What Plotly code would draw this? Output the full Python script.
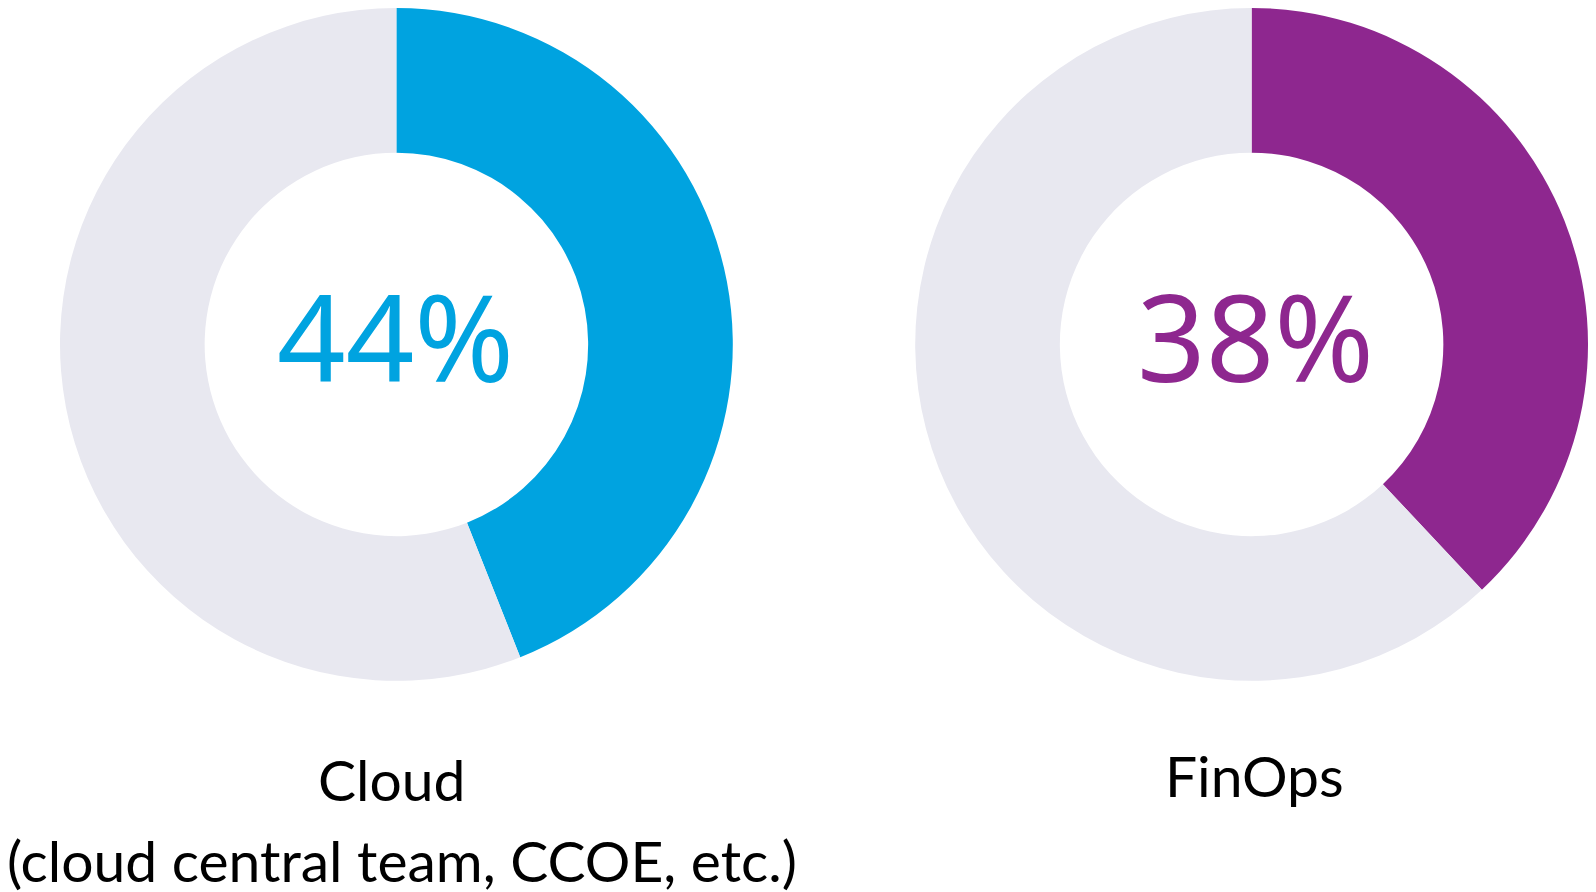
import plotly.graph_objects as go

W, H = 1596, 892

categories = ["Cloud", "FinOps"]
values = [44, 38]
label_lines = [["Cloud", "(cloud central team, CCOE, etc.)"], ["FinOps"]]
colors = ["#00A3E0", "#8E278F"]
rest_color = "#E8E8F0"

# layout (figure pixels)
donut_x = [(52.0, 724.8), (907.2, 1580.0)]
donut_y = (0, 672.8)
pct_x = [387.4, 1247.2]
pct_y = 327.2
label_x = [[383.8, 394.0], [1246.2]]
label_y = [[770.6, 852.3], [767.1]]

fig = go.Figure()
for i, cat in enumerate(categories):
    x0, x1 = donut_x[i]
    fig.add_trace(go.Pie(
        labels=[cat, "Other"],
        values=[values[i], 100 - values[i]],
        hole=0.57,
        sort=False,
        direction="clockwise",
        rotation=0,
        marker=dict(colors=[colors[i], rest_color], line=dict(width=0)),
        textinfo="none",
        hoverinfo="label+percent",
        showlegend=False,
        domain=dict(x=[x0 / W, x1 / W], y=[1 - donut_y[1] / H, 1 - donut_y[0] / H]),
    ))

annotations = []
for i, cat in enumerate(categories):
    annotations.append(dict(
        x=pct_x[i] / W, y=1 - pct_y / H, xref="paper", yref="paper",
        text=f"{values[i]}%", showarrow=False, xanchor="center", yanchor="middle",
        font=dict(family="Noto Sans", size=120, color=colors[i]),
    ))

for i, lines in enumerate(label_lines):
    for j, line in enumerate(lines):
        annotations.append(dict(
            x=label_x[i][j] / W, y=1 - label_y[i][j] / H, xref="paper", yref="paper",
            text=line, showarrow=False, xanchor="center", yanchor="middle",
            font=dict(family="Lato", size=57, color="#000000"),
        ))

fig.update_layout(
    width=W, height=H,
    margin=dict(l=0, r=0, t=0, b=0),
    paper_bgcolor="white", plot_bgcolor="white",
    annotations=annotations,
)

fig.write_html("out.html")
